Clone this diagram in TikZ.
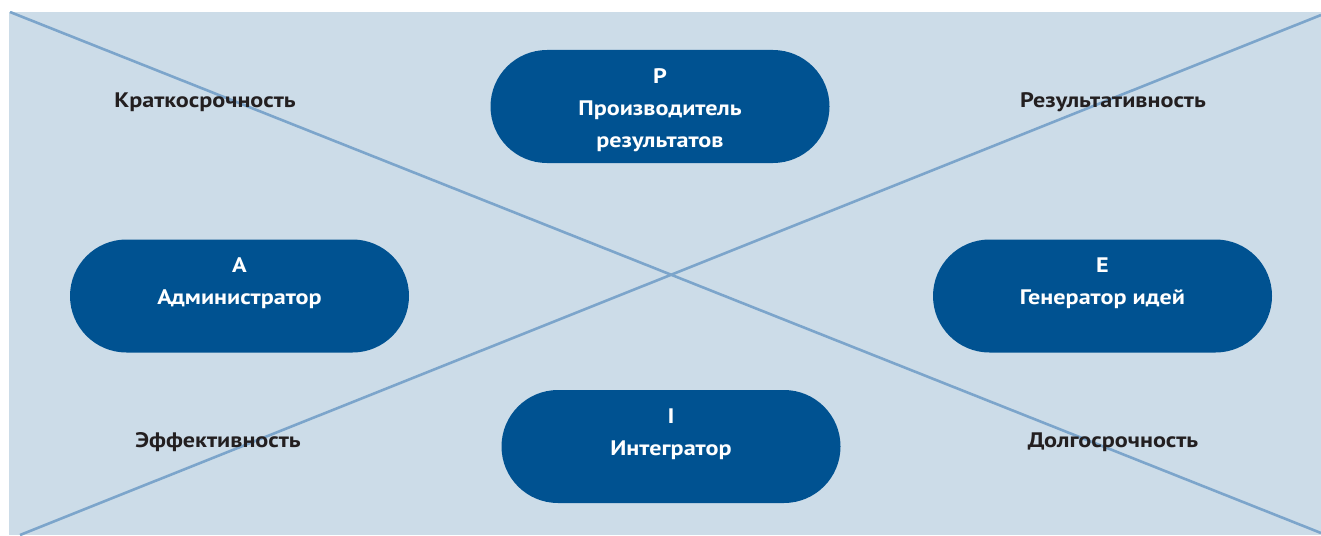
\documentclass[tikz,border=0pt]{standalone}
\usepackage{fontspec}
\setmainfont{PT Sans}
\newfontfamily\widefont[FakeStretch=1.15]{PT Sans}
\usetikzlibrary{shapes.misc}
\definecolor{bgblue}{RGB}{204,220,232}
\definecolor{lineblue}{RGB}{124,165,203}
\definecolor{boxblue}{RGB}{0,82,145}
\definecolor{textdark}{RGB}{35,31,32}
\tikzset{
  pill/.style={rounded rectangle, fill=boxblue, draw=none, minimum width=339pt, minimum height=113pt, inner sep=0pt},
  pilltext/.style={anchor=base, align=center, text=white, font=\widefont\fontsize{21}{32}\selectfont\bfseries},
  quality/.style={anchor=base, text=textdark, font=\widefont\fontsize{21}{24}\selectfont\bfseries},
  diag/.style={draw=lineblue, line width=2.6pt}
}
\begin{document}
\begin{tikzpicture}[x=1pt,y=-1pt]
\useasboundingbox (0,0) rectangle (1321,535);
\fill[bgblue] (9,12) rectangle (1321,535);
\coordinate (tl) at (10,12);
\coordinate (br) at (1321,533);
\coordinate (bl) at (20,535);
\coordinate (tr) at (1321,15);
\begin{scope}
\clip (9,12) rectangle (1321,535);
\draw[diag] (tl) -- (br);
\draw[diag] (bl) -- (tr);
\end{scope}
\node[pill] (P) at (660,106.5) {};
\node[pill] (A) at (239.5,296) {};
\node[pill] (E) at (1102.5,296) {};
\node[pill] (I) at (671,446.5) {};
\node[pilltext] (Pt) at (660,147) {P\\Производитель\\результатов};
\node[pilltext] (At) at (239.5,304) {A\\Администратор};
\node[pilltext] (Et) at (1102.5,304) {E\\Генератор идей};
\node[pilltext] (It) at (671,455) {I\\Интегратор};
\node[quality] (q1) at (205,107) {Краткосрочность};
\node[quality] (q2) at (1113,107) {Результативность};
\node[quality] (q3) at (218,447) {Эффективность};
\node[quality] (q4) at (1113,447) {Долгосрочность};
\end{tikzpicture}
\end{document}
